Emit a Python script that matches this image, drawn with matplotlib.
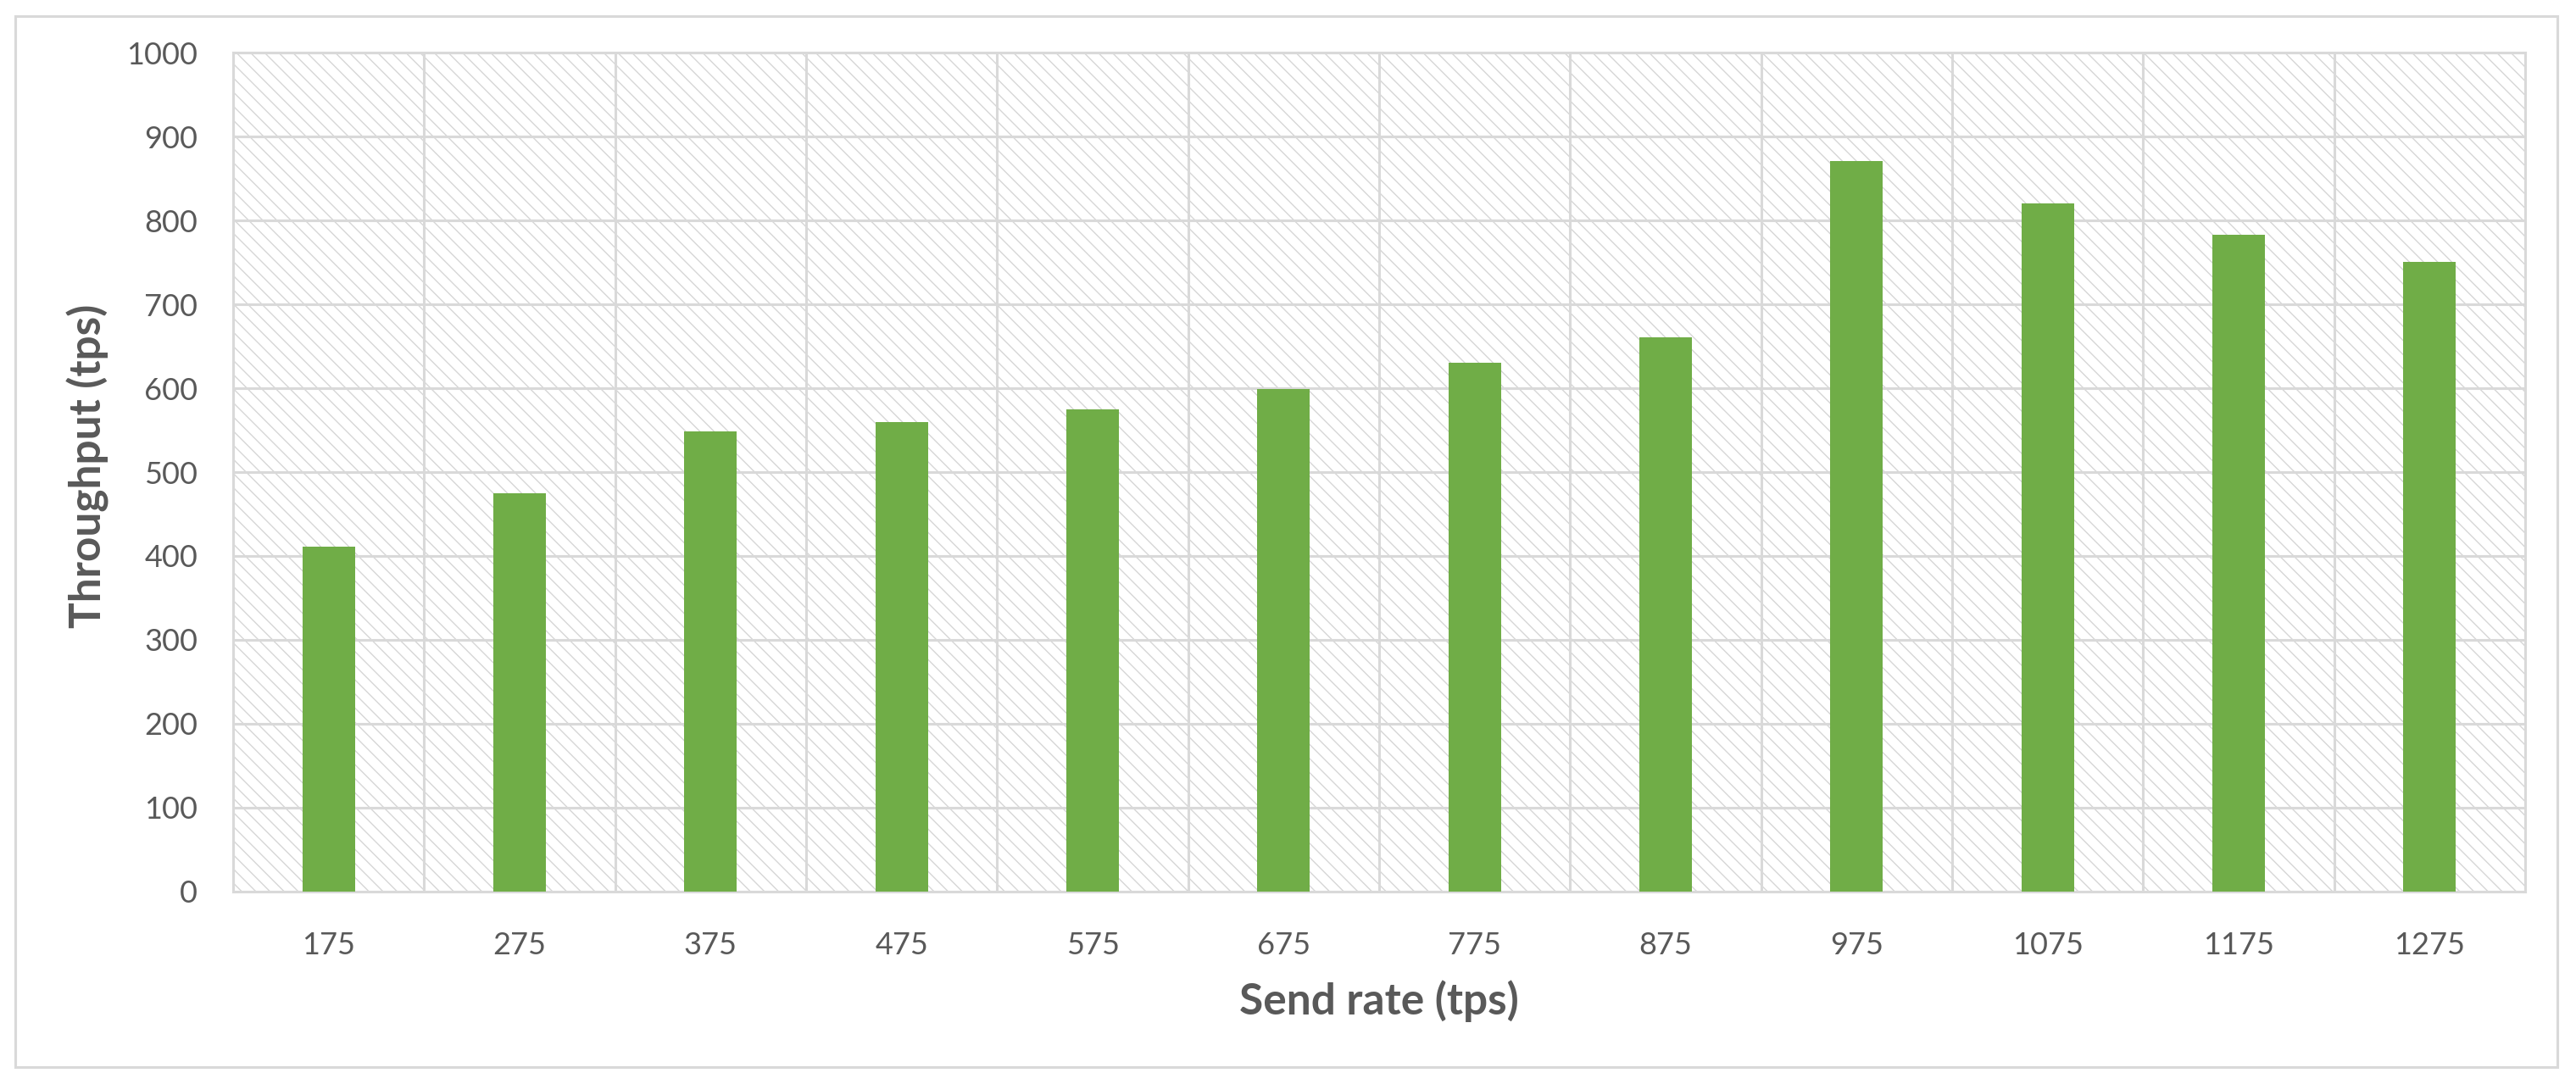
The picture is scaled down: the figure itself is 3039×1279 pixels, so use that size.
import matplotlib.pyplot as plt
from matplotlib.patches import Rectangle
import numpy as np

plt.rcParams['font.family'] = ['Lato', 'DejaVu Sans']
plt.rcParams['hatch.linewidth'] = 1.0

# data
send_rate = ['175', '275', '375', '475', '575', '675', '775', '875', '975', '1075', '1175', '1275']
throughput = [411, 475, 548, 560, 575, 599, 630, 661, 871, 820, 783, 751]
y_ticks = [0, 100, 200, 300, 400, 500, 600, 700, 800, 900, 1000]

grey = '#d9d9d9'
text_col = '#595959'
green = '#70ad47'

fig = plt.figure(figsize=(30.39, 12.79), dpi=100)
ax = fig.add_axes([0.0905, 0.1775, 0.8898, 0.774])

# outer chart border
fig.patches.append(Rectangle((0.0059, 0.0156), 0.9869, 0.9695, transform=fig.transFigure,
                             fill=False, edgecolor=grey, linewidth=2.2))

# hatched plot area background (6 lines per inch per hatch char)
ax.add_patch(Rectangle((0, 0), 1, 1, transform=ax.transAxes, facecolor='white',
                       edgecolor='#d6d6d6', hatch='\\\\', linewidth=0, zorder=0))

x = np.arange(len(send_rate))
ax.bar(x, throughput, width=0.275, color=green, zorder=3)

ax.set_xlim(-0.5, len(send_rate) - 0.5)
ax.set_ylim(0, 1000)
ax.set_yticks(y_ticks)
ax.set_xticks(x)
ax.set_xticklabels(send_rate)
ax.set_xticks(np.arange(-0.5, len(send_rate)), minor=True)

ax.grid(axis='y', which='major', color=grey, linewidth=2.2, zorder=1)
ax.grid(axis='x', which='minor', color=grey, linewidth=2.2, zorder=1)
ax.set_axisbelow(True)

for s in ax.spines.values():
    s.set_color(grey)
    s.set_linewidth(2.2)

ax.tick_params(axis='both', which='both', length=0, labelsize=26, labelcolor=text_col)
ax.tick_params(axis='y', pad=30)
ax.tick_params(axis='x', pad=34)

ax.set_xlabel('Send rate (tps)', fontsize=37, fontweight='bold', color=text_col)
ax.set_ylabel('Throughput (tps)', fontsize=37, fontweight='bold', color=text_col)
ax.xaxis.set_label_coords(0.5, -0.105)
ax.yaxis.set_label_coords(-0.054, 0.507)

fig.savefig('out.png', dpi=100)
